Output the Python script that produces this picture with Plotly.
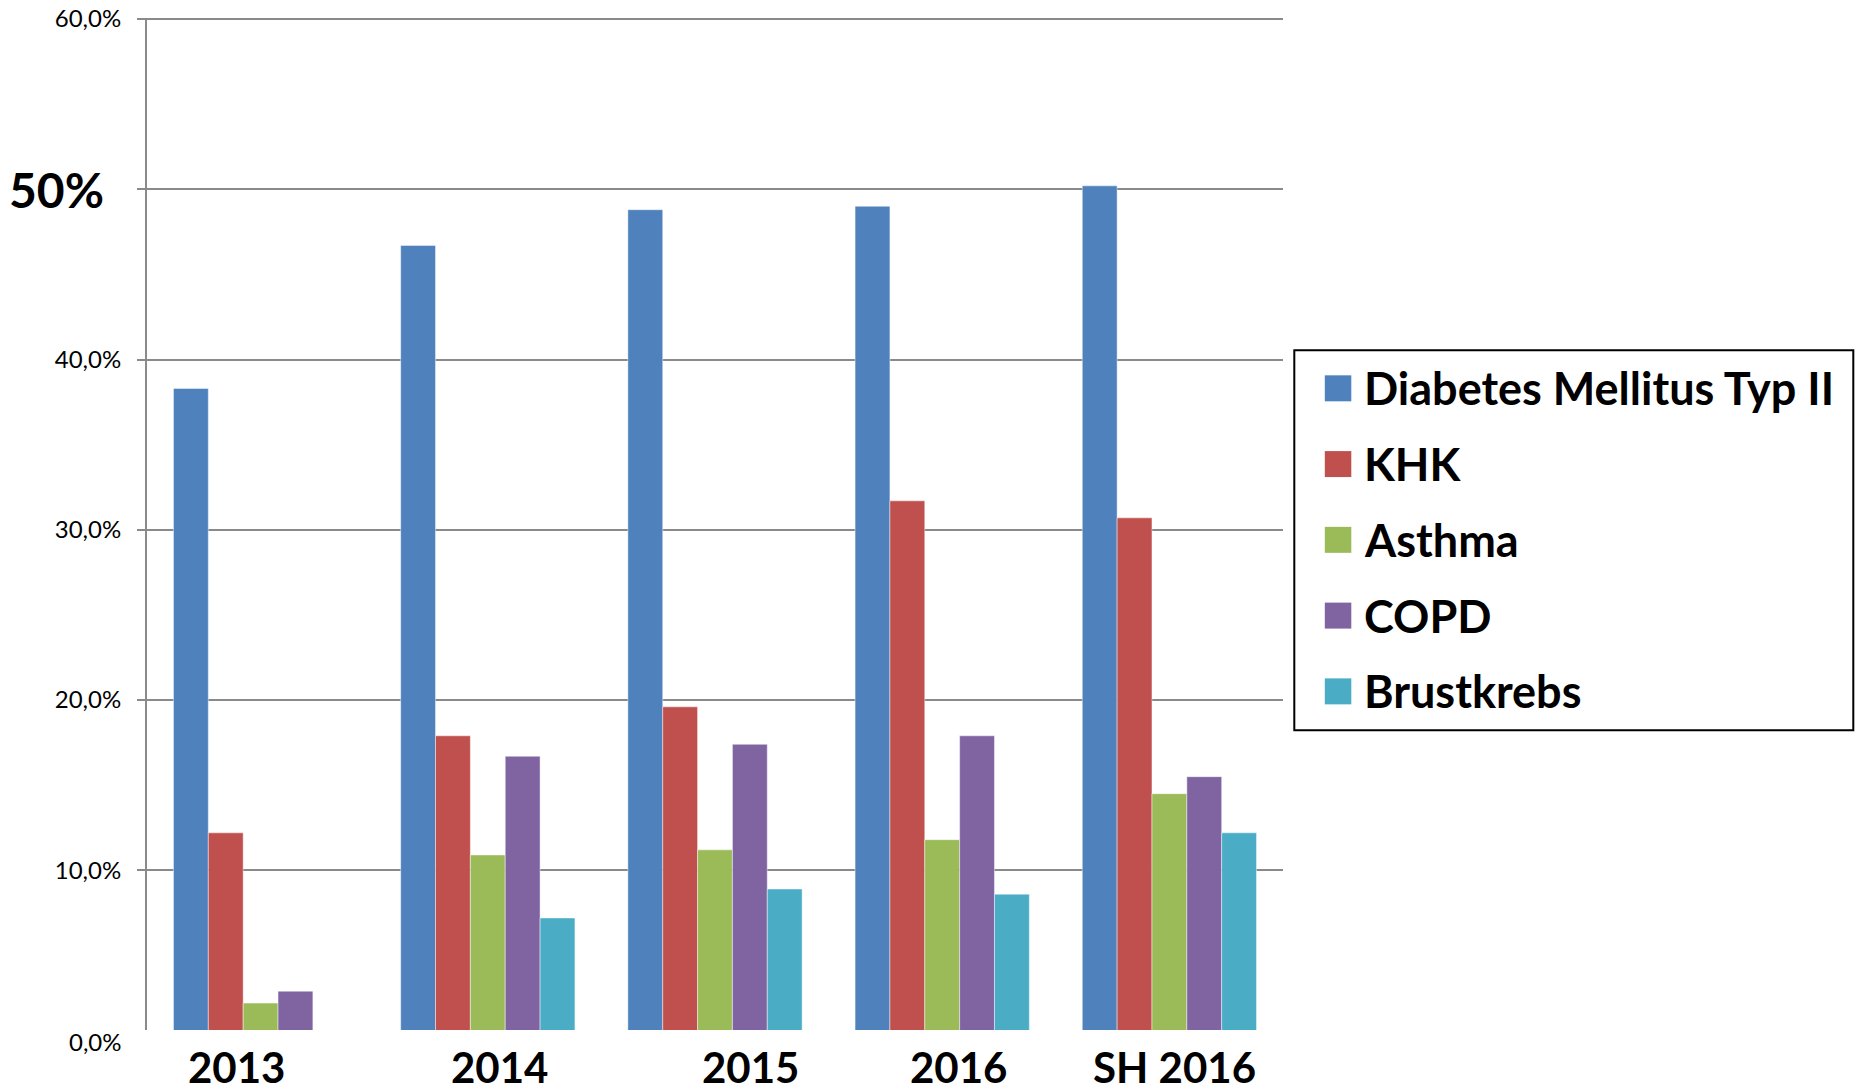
import plotly.graph_objects as go

categories = ["2013", "2014", "2015", "2016", "SH 2016"]
diabetes = [38.3, 46.7, 48.8, 49.0, 50.2]
khk = [12.2, 17.9, 19.6, 31.7, 30.7]
asthma = [2.2, 10.9, 11.2, 11.8, 14.5]
copd = [2.9, 16.7, 17.4, 17.9, 15.5]
brustkrebs = [None, 7.2, 8.9, 8.6, 12.2]

series_names = ["Diabetes Mellitus Typ II", "KHK", "Asthma", "COPD", "Brustkrebs"]
series_values = [diabetes, khk, asthma, copd, brustkrebs]
colors = ["#4F81BD", "#C0504D", "#9BBB59", "#8064A2", "#4BACC6"]

ytick_vals = [10, 20, 30, 40, 50, 60]
ytick_text = ["10,0%", "20,0%", "30,0%", "40,0%", "", "60,0%"]

# horizontal nudges (px) of the category labels, as in the original picture
label_nudges = [-24, 12, 35, 16, 5]

W, H = 1856, 1091
L, R, T, B = 146.7, 1282.7, 17.5, 1030.0

fig = go.Figure()
for name, vals, col in zip(series_names, series_values, colors):
    fig.add_trace(go.Bar(
        x=categories, y=vals, name=name, showlegend=False,
        marker=dict(color=col, line=dict(color="rgba(255,255,255,0.45)", width=1)),
    ))

def pxx(px):
    return (px - L) / (R - L)

def pxy(py):
    return (B - py) / (B - T)

shapes = []
annotations = []

# custom legend box
shapes.append(dict(type="rect", xref="paper", yref="paper",
                   x0=pxx(1294), x1=pxx(1853), y0=pxy(730), y1=pxy(350),
                   line=dict(color="black", width=2), fillcolor="white", layer="above"))
row0, row_step = 388, 75.8
for i, (name, col) in enumerate(zip(series_names, colors)):
    cy = row0 + i * row_step
    shapes.append(dict(type="rect", xref="paper", yref="paper",
                       x0=pxx(1324.5), x1=pxx(1351), y0=pxy(cy + 13), y1=pxy(cy - 13),
                       line=dict(width=0), fillcolor=col, layer="above"))
    annotations.append(dict(xref="paper", yref="paper", x=pxx(1362), y=pxy(cy),
                            xanchor="left", yanchor="middle", showarrow=False,
                            text="<b>" + name + "</b>",
                            font=dict(family="Lato", size=45, color="black")))

# category labels (placed at the category index on the category axis)
for idx, (cat, nudge) in enumerate(zip(categories, label_nudges)):
    annotations.append(dict(xref="x", yref="paper", x=idx, y=pxy(1067), xshift=nudge,
                            xanchor="center", yanchor="middle", showarrow=False,
                            text="<b>" + cat + "</b>",
                            font=dict(family="Lato", size=42, color="black")))

# special y labels
annotations.append(dict(xref="paper", yref="y", x=pxx(106), y=50,
                        xanchor="right", yanchor="middle", showarrow=False,
                        text="<b>50%</b>", font=dict(family="Lato", size=48, color="black")))
annotations.append(dict(xref="paper", yref="paper", x=pxx(124), y=pxy(1041.7),
                        xanchor="right", yanchor="middle", showarrow=False,
                        text="0,0%", font=dict(family="Lato", size=24, color="black")))

fig.update_layout(
    width=W, height=H,
    margin=dict(l=L, r=W - R, t=T, b=H - B, autoexpand=False),
    paper_bgcolor="white", plot_bgcolor="white",
    barmode="group", bargap=0.233, bargroupgap=0,
    shapes=shapes, annotations=annotations,
    font=dict(family="Lato", color="black"),
    xaxis=dict(
        type="category", categoryorder="array", categoryarray=categories,
        range=[-0.5, len(categories) - 0.5],
        showgrid=False, showline=False, zeroline=False, ticks="",
        showticklabels=False, automargin=False,
    ),
    yaxis=dict(
        range=[0.62, 60.06], tickvals=ytick_vals, ticktext=ytick_text,
        showgrid=True, gridcolor="#8A8A8A", gridwidth=2,
        showline=True, linecolor="#8A8A8A", linewidth=2,
        ticks="outside", ticklen=8, tickcolor="#8A8A8A", tickwidth=2,
        tickfont=dict(family="Lato", size=24, color="black"),
        ticklabelstandoff=11, ticklabeloverflow="allow",
        zeroline=False, automargin=False,
    ),
)

fig.write_html(
    "out.html",
    config={"displayModeBar": False},
    post_script="document.body.style.margin='0';document.body.style.overflow='hidden';",
)
